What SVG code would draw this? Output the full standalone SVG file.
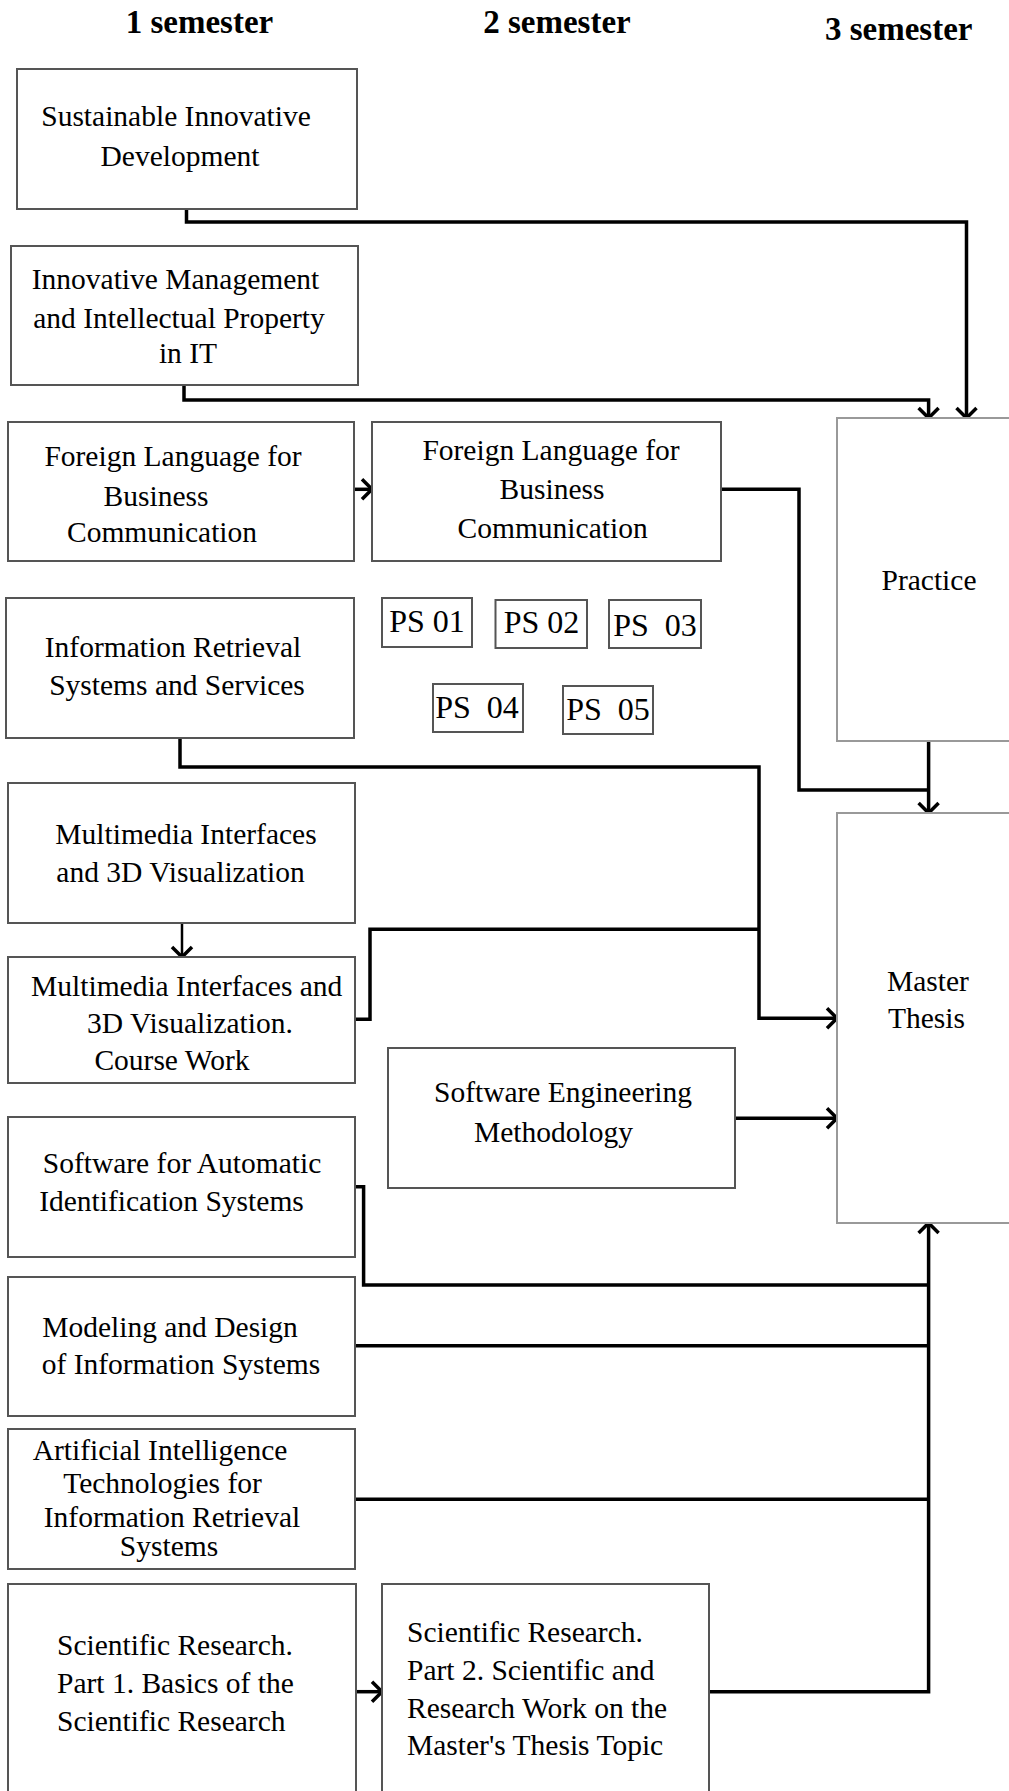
<svg xmlns="http://www.w3.org/2000/svg" width="1009" height="1791" viewBox="0 0 1009 1791">
<defs>
<style>
.box{fill:#fff;stroke:#555;stroke-width:2}
.big{fill:#fff;stroke:#999;stroke-width:2}
.t{font-family:"Liberation Serif","Times New Roman",serif;font-size:29.5px;fill:#000;text-anchor:middle}
.l{text-anchor:start}
.ps{font-family:"Liberation Serif","Times New Roman",serif;font-size:32px;fill:#000;text-anchor:middle}
.h{font-family:"Liberation Serif","Times New Roman",serif;font-size:33px;font-weight:bold;fill:#000;text-anchor:middle}
.c{fill:none;stroke:#000;stroke-width:3.5}
.thin{stroke-width:2.5}
</style>
<marker id="arr" markerUnits="userSpaceOnUse" viewBox="0 0 16 24" markerWidth="16" markerHeight="24" refX="12" refY="12" orient="auto">
<path d="M2,2 L12,12 L2,22" fill="none" stroke="#000" stroke-width="3.5"/>
</marker>
</defs>
<rect width="1009" height="1791" fill="#fff"/>
<g id="headers">
<text class="h" x="199.5" y="33">1 semester</text>
<text class="h" x="557" y="33">2 semester</text>
<text class="h" x="898.7" y="40">3 semester</text>
</g>
<g id="connectors">
<path class="c" d="M186.5,209 V222 H966.5 V418" marker-end="url(#arr)"/>
<path class="c" d="M184,385 V400 H928.6 V418" marker-end="url(#arr)"/>
<path class="c" d="M354,489.3 H372" marker-end="url(#arr)"/>
<path class="c" d="M721,489.3 H799 V790 H928.6"/>
<path class="c" d="M928.6,741 V813" marker-end="url(#arr)"/>
<path class="c" d="M180,738 V767 H759 V1018.3 H837" marker-end="url(#arr)"/>
<path class="c" d="M355,1019.3 H370 V929.3 H759"/>
<path class="c thin" d="M182,923 V957" marker-end="url(#arr)"/>
<path class="c" d="M735,1118.3 H837" marker-end="url(#arr)"/>
<path class="c" d="M355,1186.7 H363.6 V1285 H928.6"/>
<path class="c" d="M355,1345.7 H928.6"/>
<path class="c" d="M355,1499.3 H928.6"/>
<path class="c" d="M709,1691.7 H928.6 V1223" marker-end="url(#arr)"/>
<path class="c" d="M356,1691.7 H382" marker-end="url(#arr)"/>
</g>
<g id="n-sustainable">
<rect class="box" x="17" y="69" width="340" height="140"/>
<text class="t" x="176" y="126">Sustainable Innovative</text>
<text class="t" x="180" y="166">Development</text>
</g>
<g id="n-innovative">
<rect class="box" x="11" y="246" width="347" height="139"/>
<text class="t" x="175.5" y="289">Innovative Management</text>
<text class="t" x="179" y="328">and Intellectual Property</text>
<text class="t" x="188" y="363">in IT</text>
</g>
<g id="n-fl1">
<rect class="box" x="8" y="422" width="346" height="139"/>
<text class="t" x="173" y="466">Foreign Language for</text>
<text class="t" x="156" y="506">Business</text>
<text class="t" x="162" y="542">Communication</text>
</g>
<g id="n-fl2">
<rect class="box" x="372" y="422" width="349" height="139"/>
<text class="t" x="551" y="460">Foreign Language for</text>
<text class="t" x="552" y="499">Business</text>
<text class="t" x="552.6" y="538">Communication</text>
</g>
<g id="n-practice">
<rect class="big" x="837" y="418" width="200" height="323"/>
<text class="t" x="929" y="590">Practice</text>
</g>
<g id="n-ir">
<rect class="box" x="6" y="598" width="348" height="140"/>
<text class="t" x="173" y="657">Information Retrieval</text>
<text class="t" x="177" y="695">Systems and Services</text>
</g>
<g id="n-ps01">
<rect class="box" x="382" y="598" width="90" height="49"/>
<text class="ps" x="427" y="632">PS 01</text>
</g>
<g id="n-ps02">
<rect class="box" x="495.5" y="600" width="91.5" height="48"/>
<text class="ps" x="541.5" y="633">PS 02</text>
</g>
<g id="n-ps03">
<rect class="box" x="609" y="600" width="92" height="48"/>
<text class="ps" x="655" y="636" word-spacing="8">PS 03</text>
</g>
<g id="n-ps04">
<rect class="box" x="433" y="684" width="90" height="48"/>
<text class="ps" x="477" y="718" word-spacing="8">PS 04</text>
</g>
<g id="n-ps05">
<rect class="box" x="563" y="686" width="90" height="48"/>
<text class="ps" x="608" y="720" word-spacing="8">PS 05</text>
</g>
<g id="n-mm1">
<rect class="box" x="8" y="783" width="347" height="140"/>
<text class="t" x="186" y="844">Multimedia Interfaces</text>
<text class="t" x="180.5" y="882">and 3D Visualization</text>
</g>
<g id="n-mm2">
<rect class="box" x="8" y="957" width="347" height="126"/>
<text class="t" x="186.7" y="996">Multimedia Interfaces and</text>
<text class="t" x="190" y="1033">3D Visualization.</text>
<text class="t" x="172" y="1070">Course Work</text>
</g>
<g id="n-sem">
<rect class="box" x="388" y="1048" width="347" height="140"/>
<text class="t" x="563" y="1102">Software Engineering</text>
<text class="t" x="553.5" y="1142">Methodology</text>
</g>
<g id="n-master">
<rect class="big" x="837" y="813" width="200" height="410"/>
<text class="t l" x="887" y="991">Master</text>
<text class="t l" x="888" y="1028">Thesis</text>
</g>
<g id="n-sais">
<rect class="box" x="8" y="1117" width="347" height="140"/>
<text class="t" x="182" y="1173">Software for Automatic</text>
<text class="t" x="171.5" y="1211">Identification Systems</text>
</g>
<g id="n-model">
<rect class="box" x="8" y="1277" width="347" height="139"/>
<text class="t" x="170" y="1337">Modeling and Design</text>
<text class="t" x="181" y="1374">of Information Systems</text>
</g>
<g id="n-ai">
<rect class="box" x="8" y="1429" width="347" height="140"/>
<text class="t" x="160" y="1460">Artificial Intelligence</text>
<text class="t" x="162.5" y="1493">Technologies for</text>
<text class="t" x="172" y="1527">Information Retrieval</text>
<text class="t" x="169" y="1556">Systems</text>
</g>
<g id="n-sr1">
<rect class="box" x="8" y="1584" width="348" height="240"/>
<text class="t l" x="57" y="1655">Scientific Research.</text>
<text class="t l" x="57" y="1693">Part 1. Basics of the</text>
<text class="t l" x="57" y="1731">Scientific Research</text>
</g>
<g id="n-sr2">
<rect class="box" x="382" y="1584" width="327" height="240"/>
<text class="t l" x="407" y="1642">Scientific Research.</text>
<text class="t l" x="407" y="1680">Part 2. Scientific and</text>
<text class="t l" x="407" y="1718">Research Work on the</text>
<text class="t l" x="407" y="1755">Master's Thesis Topic</text>
</g>
</svg>
